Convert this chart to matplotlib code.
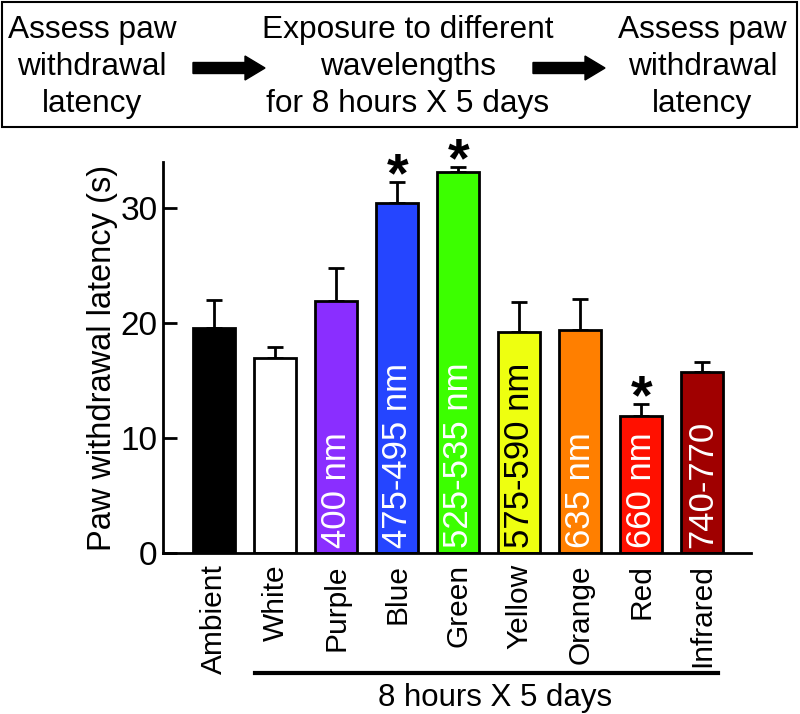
import numpy as np
import matplotlib.pyplot as plt
from matplotlib.patches import Rectangle, FancyArrow

plt.rcParams['font.family'] = ['Liberation Sans', 'DejaVu Sans']

# Datos
groups = ['Ambient', 'White', 'Purple', 'Blue', 'Green', 'Yellow', 'Orange', 'Red', 'Infrared']
means = [19.6, 16.95, 21.9, 30.4, 33.1, 19.2, 19.4, 11.95, 15.7]
errs = [2.4, 0.95, 2.9, 1.9, 0.45, 2.6, 2.7, 1.0, 0.9]
wavelengths = ['', '', '400 nm', '475-495 nm', '525-535 nm', '575-590 nm', '635 nm', '660 nm', '740-770']
colors = ['#000000', '#ffffff', '#8a2eff', '#2545ff', '#3cff00', '#eeff10', '#ff7f00', '#ff1000', '#a00000']
text_colors = ['white', 'black', 'white', 'white', 'white', 'black', 'white', 'white', 'white']
significant = [False, False, False, True, True, False, False, True, False]

fig = plt.figure(figsize=(8, 7.14), dpi=100)
ax = fig.add_axes([0.204, 0.2255, 0.735, 0.5475])

x = np.arange(len(groups))
ax.bar(x, means, width=0.69, color=colors, edgecolor='black', linewidth=2, zorder=2)
ax.errorbar(x, means, yerr=[np.zeros(len(errs)), errs], fmt='none', ecolor='black',
            elinewidth=2, capsize=6, capthick=2, zorder=1)

for xi, lab, tc in zip(x, wavelengths, text_colors):
    if lab:
        ax.text(xi, 0.4, lab, rotation=90, ha='center', va='bottom', color=tc, fontsize=25, zorder=3)

for xi, m, e, s in zip(x, means, errs, significant):
    if s:
        ax.text(xi, m + e - 1.85, '*', ha='center', va='bottom', fontsize=40, fontweight='bold')

ax.set_xlim(-0.84, 8.8)
ax.set_ylim(0, 34)
ax.set_yticks([0, 10, 20, 30])
ax.set_xticks(x)
ax.set_xticklabels(groups, rotation=90, fontsize=21.5)
ax.tick_params(axis='x', length=0, pad=8)
ax.tick_params(axis='y', direction='in', length=10, width=2, labelsize=24, pad=4)
ax.set_ylabel('Paw withdrawal latency (s)', fontsize=23.5, labelpad=2)
ax.spines['top'].set_visible(False)
ax.spines['right'].set_visible(False)
ax.spines['left'].set_linewidth(2)
ax.spines['bottom'].set_linewidth(2)

# Linea "8 hours X 5 days"
tr = ax.get_xaxis_transform()
ax.plot([0.67, 8.25], [-0.307, -0.307], color='black', linewidth=3, transform=tr, clip_on=False)
ax.text(4.6, -0.37, '8 hours X 5 days', transform=tr, ha='center', va='center', fontsize=22.5)

# Esquema superior
fig.add_artist(Rectangle((0.003, 1 - 127 / 714), 0.993, 125 / 714, transform=fig.transFigure,
                         fill=False, edgecolor='black', linewidth=1.5))
fs = 22.8
fig.text(0.115, 1 - 67 / 714, 'Assess paw\nwithdrawal\nlatency', ha='center', va='center',
         fontsize=fs, linespacing=1.32)
fig.text(0.51, 1 - 67 / 714, 'Exposure to different\nwavelengths\nfor 8 hours X 5 days', ha='center',
         va='center', fontsize=fs, linespacing=1.32)
fig.text(0.878, 1 - 67 / 714, 'Assess paw\nwithdrawal\nlatency', ha='center', va='center',
         fontsize=fs, linespacing=1.32)
for x0 in [193, 533]:
    fig.add_artist(FancyArrow(x0 / 800, 1 - 68 / 714, 52 / 800, 0, width=11 / 714,
                              head_width=24 / 714, head_length=20 / 800, length_includes_head=False,
                              transform=fig.transFigure, color='black'))

fig.savefig('out.png', dpi=100)
